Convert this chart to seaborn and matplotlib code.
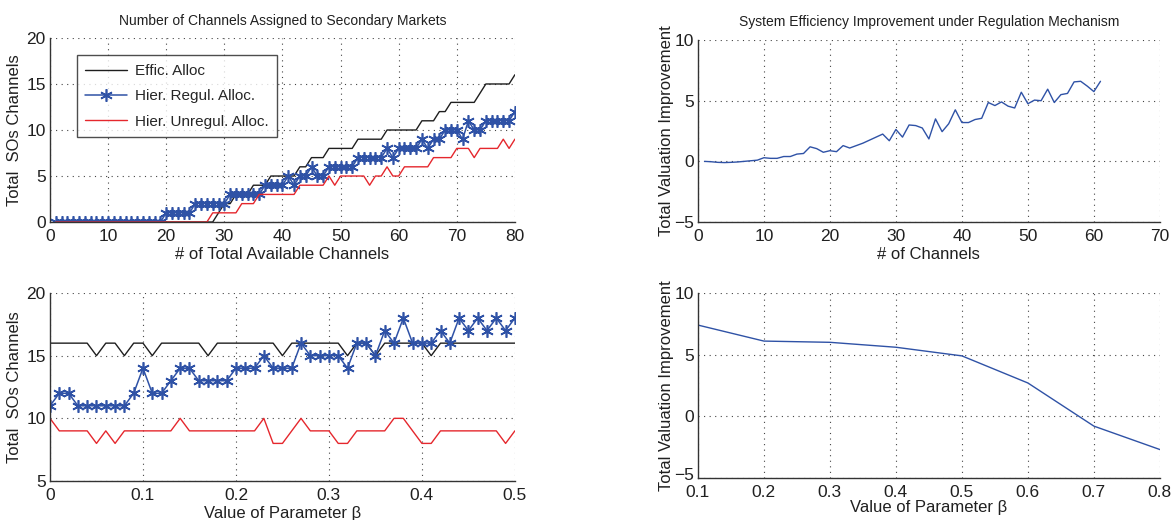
import numpy as np
import pandas as pd
import matplotlib
matplotlib.use("Agg")
import matplotlib.pyplot as plt
import matplotlib.transforms as mtransforms
import seaborn as sns

# ---- data ----
channels = list(range(1, 81))
effic_ch = [0] * 28 + [1, 2, 2, 3, 3, 3, 4, 4, 4] + [5] * 5 + [6, 6] + [7] * 3 + [8] * 5 + [9] * 5 \
    + [10] * 6 + [11] * 3 + [12, 12] + [13] * 5 + [14] + [15] * 5 + [16]
regul_ch = [0] * 19 + [1] * 5 + [2] * 6 + [3] * 6 + [4] * 4 + [5, 4, 5, 5, 6, 5, 5] + [6] * 5 + [7] * 5 \
    + [8, 7] + [8] * 4 + [9, 8, 9, 9] + [10] * 3 + [9, 11, 10, 10] + [11] * 5 + [12]
unreg_ch = [0] * 27 + [1] * 5 + [2] * 3 + [3] * 7 + [4] * 5 + [5, 4] + [5] * 5 + [4, 5, 5, 6, 5, 5] \
    + [6] * 5 + [7] * 4 + [8] * 3 + [7] + [8] * 4 + [9, 8, 9]

beta = [round(0.01 * i, 2) for i in range(51)]
effic_beta = [16, 16, 16, 16, 16, 15, 16, 16, 15, 16, 16, 15, 16, 16, 16, 16, 16, 15, 16, 16,
              16, 16, 16, 16, 16, 15, 16, 16, 16, 16, 16, 16, 15, 16, 16, 15, 16, 16, 16, 16,
              16, 15, 16, 16, 16, 16, 16, 16, 16, 16, 16]
regul_beta = [11, 12, 12, 11, 11, 11, 11, 11, 11, 12, 14, 12, 12, 13, 14, 14, 13, 13, 13, 13,
              14, 14, 14, 15, 14, 14, 14, 16, 15, 15, 15, 15, 14, 16, 16, 15, 17, 16, 18, 16,
              16, 16, 17, 16, 18, 17, 18, 17, 18, 17, 18]
unreg_beta = [10, 9, 9, 9, 9, 8, 9, 8, 9, 9, 9, 9, 9, 9, 10, 9, 9, 9, 9, 9,
              9, 9, 9, 10, 8, 8, 9, 10, 9, 9, 9, 8, 8, 9, 9, 9, 9, 10, 10, 9,
              8, 8, 9, 9, 9, 9, 9, 9, 9, 8, 9]

n_channels = list(range(1, 62))
improve_ch = [0.0, -0.03, -0.08, -0.1, -0.08, -0.05, 0.0, 0.05, 0.1, 0.3,
              0.25, 0.25, 0.4, 0.4, 0.6, 0.65, 1.2, 1.05, 0.75, 0.88,
              0.8, 1.3, 1.1, 1.3, 1.5, 1.75, 2.0, 2.25, 1.7, 2.63,
              2.0, 3.0, 2.95, 2.75, 1.85, 3.5, 2.45, 3.1, 4.25, 3.2,
              3.2, 3.45, 3.55, 4.85, 4.6, 4.9, 4.55, 4.4, 5.7, 4.75,
              5.05, 5.0, 5.95, 4.85, 5.5, 5.6, 6.55, 6.6, 6.2, 5.75, 6.6]

beta2 = [0.1, 0.2, 0.3, 0.4, 0.5, 0.6, 0.7, 0.8]
improve_beta = [7.4, 6.1, 6.0, 5.6, 4.9, 2.7, -0.8, -2.7]

# ---- style ----
sns.set_style("white")
NARROW = ['Liberation Sans Narrow', 'Liberation Sans', 'DejaVu Sans']
WIDE = ['Liberation Sans', 'DejaVu Sans']
plt.rcParams['font.family'] = NARROW
plt.rcParams['axes.unicode_minus'] = True

BLACK = '#1e1e1e'
BLUE = '#2f52a6'
RED = '#e5272d'
TXT = '#202020'
ASTER = (6, 2, 0)  # matlab-like '*' marker


def style_axes(ax, xlim, ylim, xticks, yticks, xlabels=None):
    ax.set_xlim(*xlim)
    ax.set_ylim(*ylim)
    ax.set_xticks(xticks)
    ax.set_yticks(yticks)
    if xlabels is not None:
        ax.set_xticklabels(xlabels)
    for s in ['top', 'right']:
        ax.spines[s].set_visible(False)
    for s in ['left', 'bottom']:
        ax.spines[s].set_color('#333333')
        ax.spines[s].set_linewidth(1.0)
    ax.grid(True, linestyle=(0, (1, 4)), color='#444444', linewidth=0.8)
    ax.tick_params(direction='in', length=4, width=0.8, labelsize=12.5,
                   colors='#333333', labelcolor=TXT)
    ax.tick_params(axis='x', pad=5)
    ax.tick_params(axis='y', pad=3)
    ax.set_axisbelow(True)


fig = plt.figure(figsize=(11.71, 5.2), dpi=100)
ax1 = fig.add_axes([0.0427, 0.573, 0.397, 0.354])
ax2 = fig.add_axes([0.0427, 0.075, 0.397, 0.3615])
ax3 = fig.add_axes([0.596, 0.573, 0.3945, 0.35])
ax4 = fig.add_axes([0.596, 0.081, 0.3945, 0.3555])

mk = dict(marker=ASTER, markersize=9, markeredgewidth=1.2, markeredgecolor=BLUE)

# top-left: channels assigned
df1 = pd.DataFrame({'ch': channels, 'effic': effic_ch, 'regul': regul_ch, 'unreg': unreg_ch})
sns.lineplot(data=df1, x='ch', y='effic', ax=ax1, color=BLACK, lw=1.0, label='Effic. Alloc')
sns.lineplot(data=df1, x='ch', y='regul', ax=ax1, color=BLUE, lw=1.1, label='Hier. Regul. Alloc.', **mk)
sns.lineplot(data=df1, x='ch', y='unreg', ax=ax1, color=RED, lw=1.0, label='Hier. Unregul. Alloc.')
style_axes(ax1, (0, 80), (0, 20), range(0, 81, 10), [0, 5, 10, 15, 20])
ax1.set_title('Number of Channels Assigned to Secondary Markets', fontsize=10, color=TXT, pad=9)
ax1.set_xlabel('# of Total Available Channels', fontsize=12, color=TXT, labelpad=2)
ax1.set_ylabel('Total  SOs Channels', fontsize=12, color=TXT, family=WIDE, labelpad=3)
leg = ax1.legend(loc='upper left', bbox_to_anchor=(0.058, 0.905), fontsize=11, frameon=True,
                 fancybox=False, edgecolor='#222222', handlelength=2.75, borderpad=0.55,
                 labelspacing=0.75, handletextpad=0.5, borderaxespad=0)
leg.get_frame().set_linewidth(1.0)

# bottom-left: vs beta
df2 = pd.DataFrame({'beta': beta, 'effic': effic_beta, 'regul': regul_beta, 'unreg': unreg_beta})
sns.lineplot(data=df2, x='beta', y='effic', ax=ax2, color=BLACK, lw=1.0)
sns.lineplot(data=df2, x='beta', y='regul', ax=ax2, color=BLUE, lw=1.1, **mk)
sns.lineplot(data=df2, x='beta', y='unreg', ax=ax2, color=RED, lw=1.0)
style_axes(ax2, (0, 0.5), (5, 20), [0, 0.1, 0.2, 0.3, 0.4, 0.5], [5, 10, 15, 20],
           ['0', '0.1', '0.2', '0.3', '0.4', '0.5'])
ax2.set_xlabel('Value of Parameter β', fontsize=12, color=TXT, labelpad=2)
ax2.set_ylabel('Total  SOs Channels', fontsize=12, color=TXT, family=WIDE, labelpad=3)

# top-right: efficiency improvement vs channels
df3 = pd.DataFrame({'n': n_channels, 'imp': improve_ch})
sns.lineplot(data=df3, x='n', y='imp', ax=ax3, color=BLUE, lw=1.0)
style_axes(ax3, (0, 70), (-5, 10), range(0, 71, 10), [-5, 0, 5, 10])
ax3.set_title('System Efficiency Improvement under Regulation Mechanism', fontsize=10,
              color=TXT, pad=10)
ax3.set_xlabel('# of Channels', fontsize=12, color=TXT, labelpad=2)
ax3.set_ylabel('Total Valuation Improvement', fontsize=12, color=TXT, family=WIDE, labelpad=0)

# bottom-right: efficiency improvement vs beta
df4 = pd.DataFrame({'beta': beta2, 'imp': improve_beta})
sns.lineplot(data=df4, x='beta', y='imp', ax=ax4, color=BLUE, lw=1.0)
style_axes(ax4, (0.1, 0.8), (-5, 10), beta2, [-5, 0, 5, 10])
ax4.set_xlabel('Value of Parameter β', fontsize=12, color=TXT, labelpad=0)
ax4.set_ylabel('Total Valuation Improvement', fontsize=12, color=TXT, family=WIDE, labelpad=0)
# nudge the lowest y label up a little so it does not sit on the first x label
low = ax4.get_yticklabels()[0]
low.set_transform(low.get_transform() + mtransforms.ScaledTranslation(0, 3 / 72, fig.dpi_scale_trans))

fig.savefig('out.png', dpi=100)
